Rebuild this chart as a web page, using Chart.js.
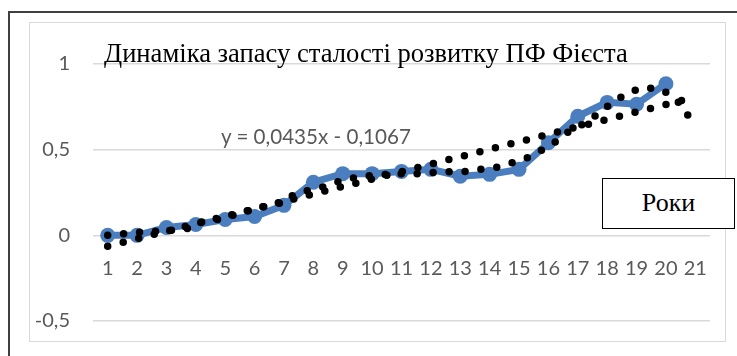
<!DOCTYPE html>
<html>
<head>
<meta charset="utf-8">
<script src="https://cdn.jsdelivr.net/npm/chart.js@4.4.1/dist/chart.umd.min.js"></script>
<style>
  html, body { margin: 0; padding: 0; background: #fff; width: 737px; height: 356px; overflow: hidden; position: relative; }
  #outer { position: absolute; left: 8px; top: 11px; width: 760px; height: 380px; border: 2px solid #404040; box-sizing: border-box; }
  #inner { position: absolute; left: 29px; top: 22px; width: 697px; height: 320px; border: 1.5px solid #d9d9d9; box-sizing: border-box; }
  #wrap { position: absolute; left: 0; top: 0; width: 737px; height: 356px; }
  .t { position: absolute; white-space: nowrap; }
  #title { left: 104px; top: 38px; font-family: "Liberation Serif", "Times New Roman", serif; font-size: 26.6px; color: #000; }
  #eq { left: 221px; top: 124px; font-family: Lato, "Open Sans", sans-serif; font-size: 20.6px; color: #595959; }
  #roki { position: absolute; left: 602px; top: 178px; width: 133px; height: 51px; border: 1.5px solid #000; box-sizing: border-box; background: #fff;
          font-family: "Liberation Serif", "Times New Roman", serif; font-size: 26px; color: #000; text-align: center; line-height: 48px; }
</style>
</head>
<body>
<div id="outer"></div>
<div id="inner"></div>
<div id="wrap"><canvas id="c" width="737" height="356"></canvas></div>
<div class="t" id="title">Динаміка запасу сталості розвитку ПФ Фієста</div>
<div class="t" id="eq">y = 0,0435x - 0,1067</div>
<div id="roki">Роки</div>
<script>
// Categories (years 1..21)
const xLabels = [1,2,3,4,5,6,7,8,9,10,11,12,13,14,15,16,17,18,19,20,21];
// Main series (years 1..20)
const seriesX = [1,2,3,4,5,6,7,8,9,10,11,12,13,14,15,16,17,18,19,20];
const seriesY = [0.0,0.0,0.046,0.063,0.092,0.11,0.175,0.31,0.36,0.36,0.373,0.385,0.345,0.356,0.385,0.54,0.695,0.776,0.765,0.885];
// Linear trend endpoints (y = 0,0435x - 0,1067)
const trendX = [1, 21];
const trendY = [-0.063, 0.807];
// Second dotted trend curve
const polyX = [1.0,2.03,3.19,3.73,4.07,4.72,5.33,5.91,6.59,7.17,7.3,7.88,8.43,8.9,9.48,10.02,10.84,11.62,12.2,12.75,13.29,13.7,14.25,14.8,15.3,15.8,16.25,16.8,17.34,17.78,18.22,18.7,19.2,19.75,20.05,20.47,20.77];
const polyY = [0.0,0.017,0.03,0.04,0.075,0.092,0.12,0.15,0.178,0.2,0.235,0.264,0.287,0.316,0.34,0.35,0.36,0.36,0.368,0.373,0.373,0.385,0.397,0.425,0.454,0.5,0.546,0.62,0.66,0.724,0.78,0.83,0.862,0.856,0.83,0.77,0.695];
// Y tick labels
const yTickValues = [-0.5, 0, 0.5, 1];
const yTickLabels = ['-0,5', '0', '0,5', '1'];

const zip = (xs, ys) => xs.map((x, i) => ({x: x, y: ys[i]}));

const dotted = {
  borderColor: '#000', borderWidth: 7.5, borderDash: [0, 16], borderCapStyle: 'round',
  pointRadius: 0, fill: false, tension: 0
};

new Chart(document.getElementById('c'), {
  type: 'line',
  data: {
    datasets: [
      Object.assign({ label: 'trend', data: zip(trendX, trendY) }, dotted),
      Object.assign({ label: 'poly', data: zip(polyX, polyY) }, dotted),
      { label: 'series', data: zip(seriesX, seriesY), borderColor: '#4A7EBF', backgroundColor: '#4A7EBF',
        borderWidth: 7, pointRadius: 7.5, pointBorderWidth: 0, pointBackgroundColor: '#4A7EBF', tension: 0 }
    ]
  },
  options: {
    responsive: false, animation: false, devicePixelRatio: 1,
    layout: { padding: { left: 33, right: 27, top: 64, bottom: 31 } },
    plugins: { legend: { display: false }, tooltip: { enabled: false }, title: { display: false } },
    scales: {
      x: {
        type: 'linear', min: 0.5, max: 21.5, position: { y: 0 },
        afterFit: s => { s.height = 0; },
        afterBuildTicks: s => { s.ticks = xLabels.map(v => ({ value: v })); },
        grid: { display: false, drawTicks: false },
        border: { display: false },
        ticks: { autoSkip: false, maxRotation: 0, padding: 21, color: '#595959',
                 font: { family: 'Lato, "Open Sans", sans-serif', size: 20 },
                 callback: v => String(v) }
      },
      y: {
        min: -0.5, max: 1,
        afterFit: s => { s.width = 60; },
        afterBuildTicks: s => { s.ticks = yTickValues.map(v => ({ value: v })); },
        grid: { color: '#d9d9d9', lineWidth: 1.5, drawTicks: false },
        border: { display: false },
        ticks: { padding: 23, color: '#595959', font: { family: 'Lato, "Open Sans", sans-serif', size: 20 },
                 callback: (v) => yTickLabels[yTickValues.indexOf(v)] }
      }
    }
  }
});
</script>
</body>
</html>
